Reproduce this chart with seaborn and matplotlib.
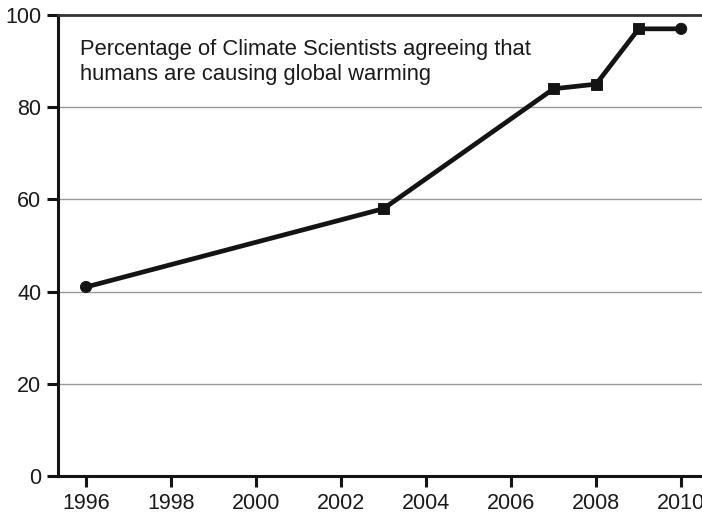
import numpy as np
import pandas as pd
import matplotlib
matplotlib.use("Agg")
import matplotlib.pyplot as plt
import seaborn as sns

# data
years = [1996, 2003, 2007, 2008, 2009, 2010]
pct = [41, 58, 84, 85, 97, 97]
shape = ["o", "s", "s", "s", "s", "o"]

df = pd.DataFrame({"year": years, "pct": pct, "shape": shape})

sns.set_style("white")
plt.rcParams["font.family"] = ["Liberation Sans", "DejaVu Sans"]

fig = plt.figure(figsize=(7.02, 5.16), dpi=100)
ax = fig.add_axes([58 / 702, 40 / 516, 644 / 702, 461 / 516])

# horizontal grid
for v in [20, 40, 60, 80]:
    ax.axhline(v, color="#999999", lw=1, zorder=0)

sns.lineplot(data=df, x="year", y="pct", color="#141414", lw=3.4, ax=ax, zorder=3)
sns.scatterplot(data=df, x="year", y="pct", style="shape", markers={"o": "o", "s": "s"},
                color="#141414", s=65, edgecolor="#141414", legend=False, ax=ax, zorder=4)

ax.set_xlim(1995.34, 2010.49)
ax.set_ylim(0, 100)
ax.set_xticks(np.arange(1996, 2011, 2))
ax.set_yticks(np.arange(0, 101, 20))
ax.set_xlabel("")
ax.set_ylabel("")

ax.spines["right"].set_visible(False)
ax.spines["left"].set_linewidth(2.2)
ax.spines["bottom"].set_linewidth(2.2)
ax.spines["top"].set_linewidth(2.0)
for s in ["left", "bottom", "top"]:
    ax.spines[s].set_color("#141414")
ax.spines["top"].set_color("#333333")

ax.tick_params(axis="both", direction="out", length=8, width=2.2, color="#141414",
               labelsize=15.5, labelcolor="#1a1a1a", bottom=True, left=True, pad=4)

ax.text(1995.85, 89.8, "Percentage of Climate Scientists agreeing that\nhumans are causing global warming",
        fontsize=15.8, color="#1a1a1a", va="center", ha="left", linespacing=1.22)

fig.savefig("out.png", dpi=100)
